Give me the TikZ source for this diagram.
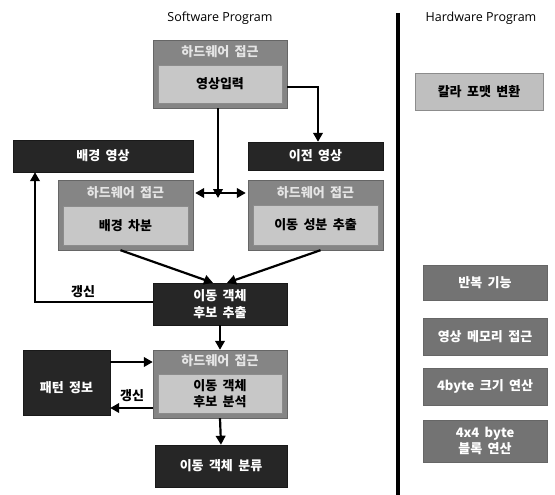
\documentclass[tikz,border=0pt]{standalone}
\usepackage{fontspec}
\setmainfont{Noto Sans CJK KR}[WordSpace=1.8]
\newfontfamily\latinfont{Open Sans}
\usetikzlibrary{arrows.meta}
\tikzset{
  box/.style={rectangle, inner sep=0pt, align=center, font=\bfseries\fontsize{13}{16.5}\selectfont},
  darkbox/.style={box, fill=black!85, draw=black!90, text=white},
  grpbox/.style={box, fill=black!48, draw=black!60},
  innerbox/.style={box, fill=black!22, draw=black!45, text=black},
  hdr/.style={text=white!90!black, font=\bfseries\fontsize{13}{14}\selectfont},
  hwbox/.style={box, fill=black!55, draw=black!60, text=white},
  lightbox/.style={box, fill=black!25, draw=black!45, text=black},
  arr/.style={line width=2.2pt, -{Triangle[length=9pt,width=9.5pt]}},
  darr/.style={line width=2.2pt, {Triangle[length=9pt,width=9.5pt]}-{Triangle[length=9pt,width=9.5pt]}},
  lbl/.style={font=\bfseries\fontsize{13}{14}\selectfont},
  title/.style={font=\latinfont\fontsize{12.5}{14}\selectfont}
}
\begin{document}
\begin{tikzpicture}[x=1pt,y=-1pt]
\useasboundingbox (0,0) rectangle (555,495);

% titles and divider
\node[title] (swt) at (220,18) {Software Program};
\node[title] (hwt) at (481,18) {Hardware Program};
\draw[line width=3.5pt] (398,13) -- (398,495);

% image input with hardware access
\node[grpbox, minimum width=134pt, minimum height=68pt] (g1) at (220,74) {};
\node[hdr] (g1h) at (220,52) {하드웨어 접근};
\node[innerbox, minimum width=124pt, minimum height=38pt] (g1i) at (220,84) {영상입력};

% background and previous frame
\node[darkbox, minimum width=180pt, minimum height=32pt] (bg) at (103,156) {배경 영상};
\node[darkbox, minimum width=135pt, minimum height=28pt] (prev) at (315.5,156) {이전 영상};

% background subtraction
\node[grpbox, minimum width=135pt, minimum height=70pt] (g2) at (125.5,215) {};
\node[hdr] (g2h) at (125.5,193) {하드웨어 접근};
\node[innerbox, minimum width=125pt, minimum height=39pt] (g2i) at (125.5,225.5) {배경 차분};

% motion component extraction
\node[grpbox, minimum width=135pt, minimum height=70pt] (g3) at (315.5,215) {};
\node[hdr] (g3h) at (315.5,193) {하드웨어 접근};
\node[innerbox, minimum width=125pt, minimum height=40pt] (g3i) at (315.5,225) {이동 성분 추출};

% candidate extraction
\node[darkbox, minimum width=134pt, minimum height=42pt] (cand) at (220,304) {이동 객체\\후보 추출};

% candidate analysis
\node[grpbox, minimum width=134pt, minimum height=68pt] (g4) at (220,384) {};
\node[hdr] (g4h) at (220,361) {하드웨어 접근};
\node[innerbox, minimum width=124pt, minimum height=39pt] (g4i) at (220,393.5) {이동 객체\\후보 분석};

% pattern info
\node[darkbox, minimum width=87pt, minimum height=65pt] (pat) at (66.5,382.5) {};
\node[text=white, font=\bfseries\fontsize{13}{14}\selectfont] (patt) at (66.5,388) {패턴 정보};

% classification
\node[darkbox, minimum width=132pt, minimum height=42pt] (cls) at (221,466) {이동 객체 분류};

% hardware program blocks
\node[lightbox, minimum width=128pt, minimum height=37pt] (hw0) at (479,91.5) {칼라 포맷 변환};
\node[hwbox, minimum width=124pt, minimum height=35pt] (hw1) at (485,282.5) {반복 기능};
\node[hwbox, minimum width=124pt, minimum height=37pt] (hw2) at (485,336.5) {영상 메모리 접근};
\node[hwbox, minimum width=124pt, minimum height=37pt] (hw3) at (485,386.5) {4byte 크기 연산};
\node[hwbox, minimum width=124pt, minimum height=42pt] (hw4) at (485,441) {4x4 byte\\블록 연산};

% connectors
\coordinate (c1) at (318,87);
\coordinate (mid) at (218,193);
\draw[arr] (g1.east |- c1) -- (c1) -- (prev.north -| c1);
\draw[arr] (g1.south -| mid) -- ([yshift=-5pt]mid);
\draw[darr] ([xshift=2pt]g2.east |- mid) -- ([xshift=-2pt]g3.west |- mid);
\draw[arr] ([xshift=-5pt]g2.south) -- ([xshift=-7pt]cand.north);
\draw[arr] ([xshift=5pt]g3.south) -- ([xshift=7pt]cand.north);
\coordinate (up) at (35,302);
\draw[arr] (cand.west |- up) -- (up) -- (bg.south -| up);
\node[lbl] (upd1) at (83,292) {갱신};
\draw[arr] (cand.south) -- (g4.north);
\coordinate (p1) at (110,362);
\coordinate (p2) at (110,408);
\draw[arr] (pat.east |- p1) -- (g4.west |- p1);
\draw[arr] (g4.west |- p2) -- (pat.east |- p2);
\node[lbl] (upd2) at (132,396) {갱신};
\draw[arr] (g4.south) -- (cls.north);
\end{tikzpicture}
\end{document}
